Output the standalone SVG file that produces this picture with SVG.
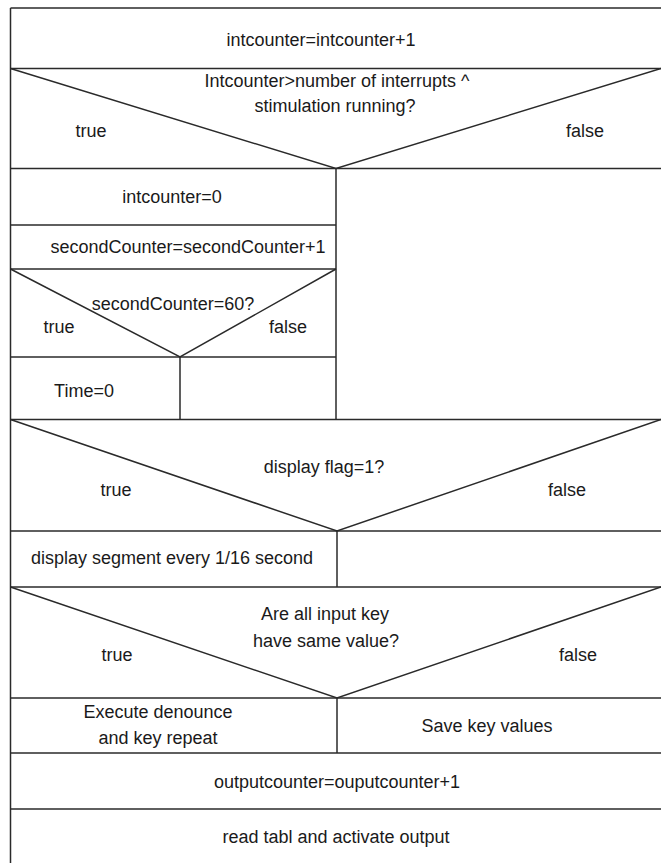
<svg xmlns="http://www.w3.org/2000/svg" width="661" height="863" viewBox="0 0 661 863">
<style>
.ln{stroke:#2a2a2a;stroke-width:1.5;fill:none}
.t{font-family:"Liberation Sans",Arial,sans-serif;font-size:18px;fill:#1a1a1a;text-anchor:middle}
</style>
<rect width="661" height="863" fill="#fff"/>
<g id="connectors" class="ln">
<path d="M10.5 8V863"/>
<path d="M10.5 8H661"/>
<path d="M10.5 68.5H661"/>
<path d="M10.5 68.5L336 168.5L661 68.5"/>
<path d="M10.5 168.5H661"/>
<path d="M336 168.5V419.5"/>
<path d="M10.5 225H336"/>
<path d="M10.5 269H336"/>
<path d="M10.5 269L180 357L336 269"/>
<path d="M10.5 357H336"/>
<path d="M180 357V419.5"/>
<path d="M10.5 419.5H661"/>
<path d="M10.5 419.5L337 531L661 419.5"/>
<path d="M10.5 531H661"/>
<path d="M337 531V587"/>
<path d="M10.5 587H661"/>
<path d="M10.5 587L337 698L661 587"/>
<path d="M10.5 698H661"/>
<path d="M337 698V753"/>
<path d="M10.5 753H661"/>
<path d="M10.5 809H661"/>
</g>
<g id="n1"><text class="t" x="321" y="46">intcounter=intcounter+1</text></g>
<g id="d1">
<text class="t" x="337" y="87">Intcounter&gt;number of interrupts ^</text>
<text class="t" x="335" y="112">stimulation running?</text>
<text class="t" x="91" y="137">true</text>
<text class="t" x="585" y="137">false</text>
</g>
<g id="n2"><text class="t" x="172" y="203">intcounter=0</text></g>
<g id="n3"><text class="t" x="188" y="253">secondCounter=secondCounter+1</text></g>
<g id="d2">
<text class="t" x="173" y="310">secondCounter=60?</text>
<text class="t" x="59" y="333">true</text>
<text class="t" x="288" y="333">false</text>
</g>
<g id="n4"><text class="t" x="84" y="397">Time=0</text></g>
<g id="d3">
<text class="t" x="324" y="473">display flag=1?</text>
<text class="t" x="116" y="496">true</text>
<text class="t" x="567" y="496">false</text>
</g>
<g id="n5"><text class="t" x="172" y="564">display segment every 1/16 second</text></g>
<g id="d4">
<text class="t" x="325" y="620">Are all input key</text>
<text class="t" x="326" y="647">have same value?</text>
<text class="t" x="117" y="661">true</text>
<text class="t" x="578" y="661">false</text>
</g>
<g id="n6">
<text class="t" x="158" y="718">Execute denounce</text>
<text class="t" x="158" y="744">and key repeat</text>
</g>
<g id="n7"><text class="t" x="487" y="732">Save key values</text></g>
<g id="n8"><text class="t" x="337" y="788">outputcounter=ouputcounter+1</text></g>
<g id="n9"><text class="t" x="336" y="843">read tabl and activate output</text></g>
</svg>
